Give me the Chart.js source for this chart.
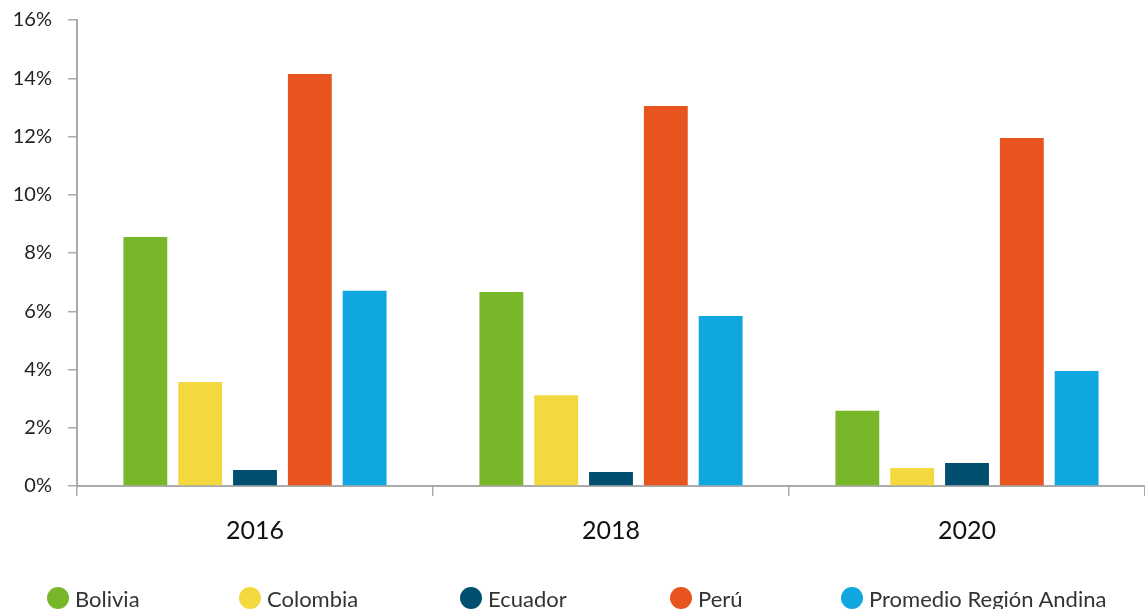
<!DOCTYPE html>
<html>
<head>
<meta charset="utf-8">
<script src="https://cdn.jsdelivr.net/npm/chart.js@4/dist/chart.umd.min.js"></script>
<style>
html,body{margin:0;padding:0;background:#fff;}
#wrap{width:1145px;height:609px;position:relative;overflow:hidden;}
#c{position:absolute;left:0;top:0;}
.lg{position:absolute;top:587px;height:22px;display:flex;align-items:center;white-space:nowrap;
    font-family:Lato,"Open Sans",sans-serif;font-size:22px;color:#333;}
.lg i{display:inline-block;width:22px;height:22px;border-radius:50%;margin-right:6px;}
</style>
</head>
<body>
<div id="wrap"><canvas id="c" width="1145" height="609"></canvas></div>
<script>
const years = ['2016', '2018', '2020'];
const seriesNames = ['Bolivia', 'Colombia', 'Ecuador', 'Perú', 'Promedio Región Andina'];
const bolivia = [8.55, 6.66, 2.58];
const colombia = [3.57, 3.12, 0.62];
const ecuador = [0.55, 0.48, 0.79];
const peru = [14.15, 13.05, 11.95];
const promedio = [6.70, 5.84, 3.95];
const yTicks = [0, 2, 4, 6, 8, 10, 12, 14, 16];
const colors = ['#78b72a', '#f3d93f', '#004f71', '#e8541e', '#10a7e0'];

const values = [bolivia, colombia, ecuador, peru, promedio];
const FONT = 'Lato, "Open Sans", sans-serif';

// HTML legend (style positions only)
const legendLeft = [47, 239, 460, 670, 841];
const wrap = document.getElementById('wrap');
seriesNames.forEach((n, i) => {
  const d = document.createElement('div');
  d.className = 'lg';
  d.style.left = legendLeft[i] + 'px';
  const dot = document.createElement('i');
  dot.style.background = colors[i];
  d.appendChild(dot);
  d.appendChild(document.createTextNode(n));
  wrap.appendChild(d);
});

new Chart(document.getElementById('c'), {
  type: 'bar',
  data: {
    labels: years,
    datasets: seriesNames.map((n, i) => ({
      label: n,
      data: values[i],
      backgroundColor: colors[i],
      borderWidth: 0,
      barPercentage: 0.8,
      categoryPercentage: 0.77
    }))
  },
  options: {
    responsive: false,
    animation: false,
    devicePixelRatio: 1,
    layout: { padding: { top: 20, right: 0, left: 0, bottom: 0 } },
    plugins: {
      tooltip: { enabled: false },
      legend: { display: false }
    },
    scales: {
      x: {
        afterFit(s) { s.height = 123; s.paddingLeft = 0; s.paddingRight = 0; },
        grid: { display: true, drawOnChartArea: false, offset: true, tickLength: 10, color: '#aaa', lineWidth: 1.5 },
        border: { display: true, color: '#aaa', width: 2 },
        ticks: { color: '#111', font: { family: FONT, size: 25 }, padding: 20 }
      },
      y: {
        min: 0, max: 16,
        afterFit(s) { s.width = 77; s.paddingTop = 0; s.paddingBottom = 0; },
        afterBuildTicks(s) { s.ticks = yTicks.map(v => ({ value: v })); },
        grid: { display: true, drawOnChartArea: false, tickLength: 9, color: '#aaa', lineWidth: 1.5 },
        border: { display: true, color: '#aaa', width: 2 },
        ticks: { color: '#222', font: { family: FONT, size: 20 }, padding: 16, callback: v => v + '%' }
      }
    }
  }
});
</script>
</body>
</html>
